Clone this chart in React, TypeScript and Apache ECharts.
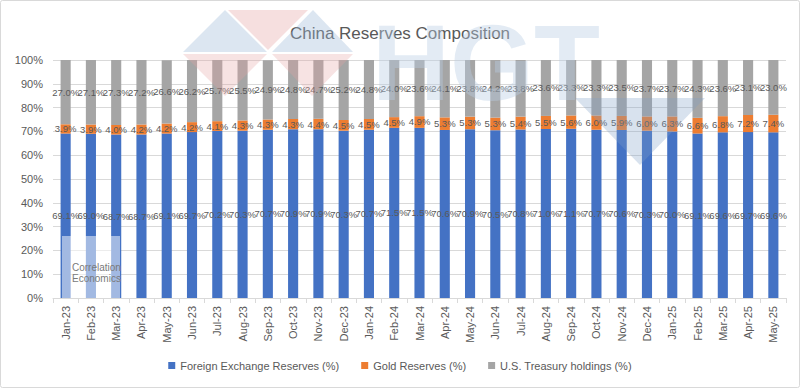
import React, { useEffect, useRef } from "react";
import * as echarts from "echarts";

const categories = [
  "Jan-23", "Feb-23", "Mar-23", "Apr-23", "May-23", "Jun-23", "Jul-23", "Aug-23", "Sep-23", "Oct-23",
  "Nov-23", "Dec-23", "Jan-24", "Feb-24", "Mar-24", "Apr-24", "May-24", "Jun-24", "Jul-24", "Aug-24",
  "Sep-24", "Oct-24", "Nov-24", "Dec-24", "Jan-25", "Feb-25", "Mar-25", "Apr-25", "May-25",
];

const fxReserves = [
  69.1, 69.0, 68.7, 68.7, 69.1, 69.7, 70.2, 70.3, 70.7, 70.9,
  70.9, 70.3, 70.7, 71.5, 71.5, 70.6, 70.9, 70.5, 70.8, 71.0,
  71.1, 70.7, 70.6, 70.3, 70.0, 69.1, 69.6, 69.7, 69.6,
];

const goldReserves = [
  3.9, 3.9, 4.0, 4.2, 4.2, 4.2, 4.1, 4.3, 4.3, 4.3,
  4.4, 4.5, 4.5, 4.5, 4.9, 5.3, 5.3, 5.3, 5.4, 5.5,
  5.6, 6.0, 5.9, 6.0, 6.3, 6.6, 6.8, 7.2, 7.4,
];

const treasuryHoldings = [
  27.0, 27.1, 27.3, 27.2, 26.6, 26.2, 25.7, 25.5, 24.9, 24.8,
  24.7, 25.2, 24.8, 24.0, 23.6, 24.1, 23.8, 24.2, 23.8, 23.6,
  23.3, 23.3, 23.5, 23.7, 23.7, 24.3, 23.6, 23.1, 23.0,
];

const seriesNames = ["Foreign Exchange Reserves (%)", "Gold Reserves (%)", "U.S. Treasury holdings (%)"];
const seriesColors = ["#4472C4", "#ED7D31", "#A5A5A5"];
const FONT = "'Liberation Sans', Arial, sans-serif";

export default function App() {
  const ref = useRef<HTMLDivElement>(null);

  useEffect(() => {
    if (!ref.current) return;
    const chart = echarts.init(ref.current, undefined, { renderer: "svg" });
    const dataSets = [fxReserves, goldReserves, treasuryHoldings];

    const label = {
      show: true,
      position: "inside" as const,
      color: "#595959",
      fontSize: 9.5,
      fontFamily: FONT,
      formatter: (p: any) => `${Number(p.value).toFixed(1)}%`,
    };

    chart.setOption({
      animation: false,
      backgroundColor: "#ffffff",
      title: {
        text: "China Reserves Composition",
        left: "center",
        top: 20,
        textStyle: { color: "#595959", fontSize: 17, fontWeight: "normal", fontFamily: FONT },
      },
      legend: {
        bottom: 12,
        left: "center",
        itemWidth: 7,
        itemHeight: 7,
        itemGap: 22,
        icon: "rect",
        textStyle: { color: "#595959", fontSize: 11, fontFamily: FONT },
        data: seriesNames,
      },
      grid: { left: 53, right: 14, top: 60, bottom: 90 },
      xAxis: {
        type: "category",
        data: categories,
        axisLine: { lineStyle: { color: "#d9d9d9" } },
        axisTick: { show: true, length: 5, lineStyle: { color: "#d9d9d9" } },
        axisLabel: { rotate: 90, color: "#595959", fontSize: 11, fontFamily: FONT, interval: 0, margin: 8 },
      },
      yAxis: {
        type: "value",
        min: 0,
        max: 100,
        interval: 10,
        axisLine: { show: false },
        axisTick: { show: false },
        splitLine: { lineStyle: { color: "#d9d9d9" } },
        axisLabel: { color: "#595959", fontSize: 11, fontFamily: FONT, formatter: "{value}%", margin: 10 },
      },
      series: seriesNames.map((name, i) => ({
        name,
        type: "bar",
        stack: "total",
        barWidth: "40%",
        itemStyle: { color: seriesColors[i] },
        label,
        data: dataSets[i],
      })),
      graphic: [
        { type: "polygon", z: 100, silent: true, shape: { points: [[225, 10], [183, 52], [267, 52]] }, style: { fill: "#9bb7d6", opacity: 0.35 } },
        { type: "polygon", z: 100, silent: true, shape: { points: [[228, 10], [308, 10], [268, 50]] }, style: { fill: "#e6a3a3", opacity: 0.35 } },
        { type: "polygon", z: 100, silent: true, shape: { points: [[313, 10], [272, 52], [353, 52]] }, style: { fill: "#9bb7d6", opacity: 0.35 } },
        { type: "polygon", z: 100, silent: true, shape: { points: [[183, 54], [267, 54], [225, 96]] }, style: { fill: "#e6a3a3", opacity: 0.3 } },
        { type: "polygon", z: 100, silent: true, shape: { points: [[272, 54], [353, 54], [312, 96]] }, style: { fill: "#e6a3a3", opacity: 0.3 } },
        {
          type: "text", z: 100, silent: true, left: 372, top: 8,
          style: { text: "HGT", fontSize: 108, fontWeight: "bold", fontFamily: FONT, fill: "#b8cde4", opacity: 0.4 },
        },
        { type: "polygon", z: 100, silent: true, shape: { points: [[575, 98], [705, 98], [640, 165]] }, style: { fill: "#7f9fc8", opacity: 0.3 } },
        { type: "rect", z: 100, silent: true, shape: { x: 62, y: 236, width: 58, height: 62 }, style: { fill: "#ffffff", opacity: 0.5 } },
        { type: "text", z: 101, silent: true, left: 72, top: 262, style: { text: "Correlation\nEconomics", fontSize: 10, lineHeight: 11, fontFamily: FONT, fill: "#7a7a7a" } },
        { type: "rect", z: 101, silent: true, shape: { x: 0.5, y: 0.5, width: 799, height: 387, r: 2 }, style: { fill: "none", stroke: "#d9d9d9", lineWidth: 1 } },
      ],
    });

    return () => chart.dispose();
  }, []);

  return <div ref={ref} style={{ position: "fixed", left: 0, top: 0, width: 800, height: 388 }} />;
}
